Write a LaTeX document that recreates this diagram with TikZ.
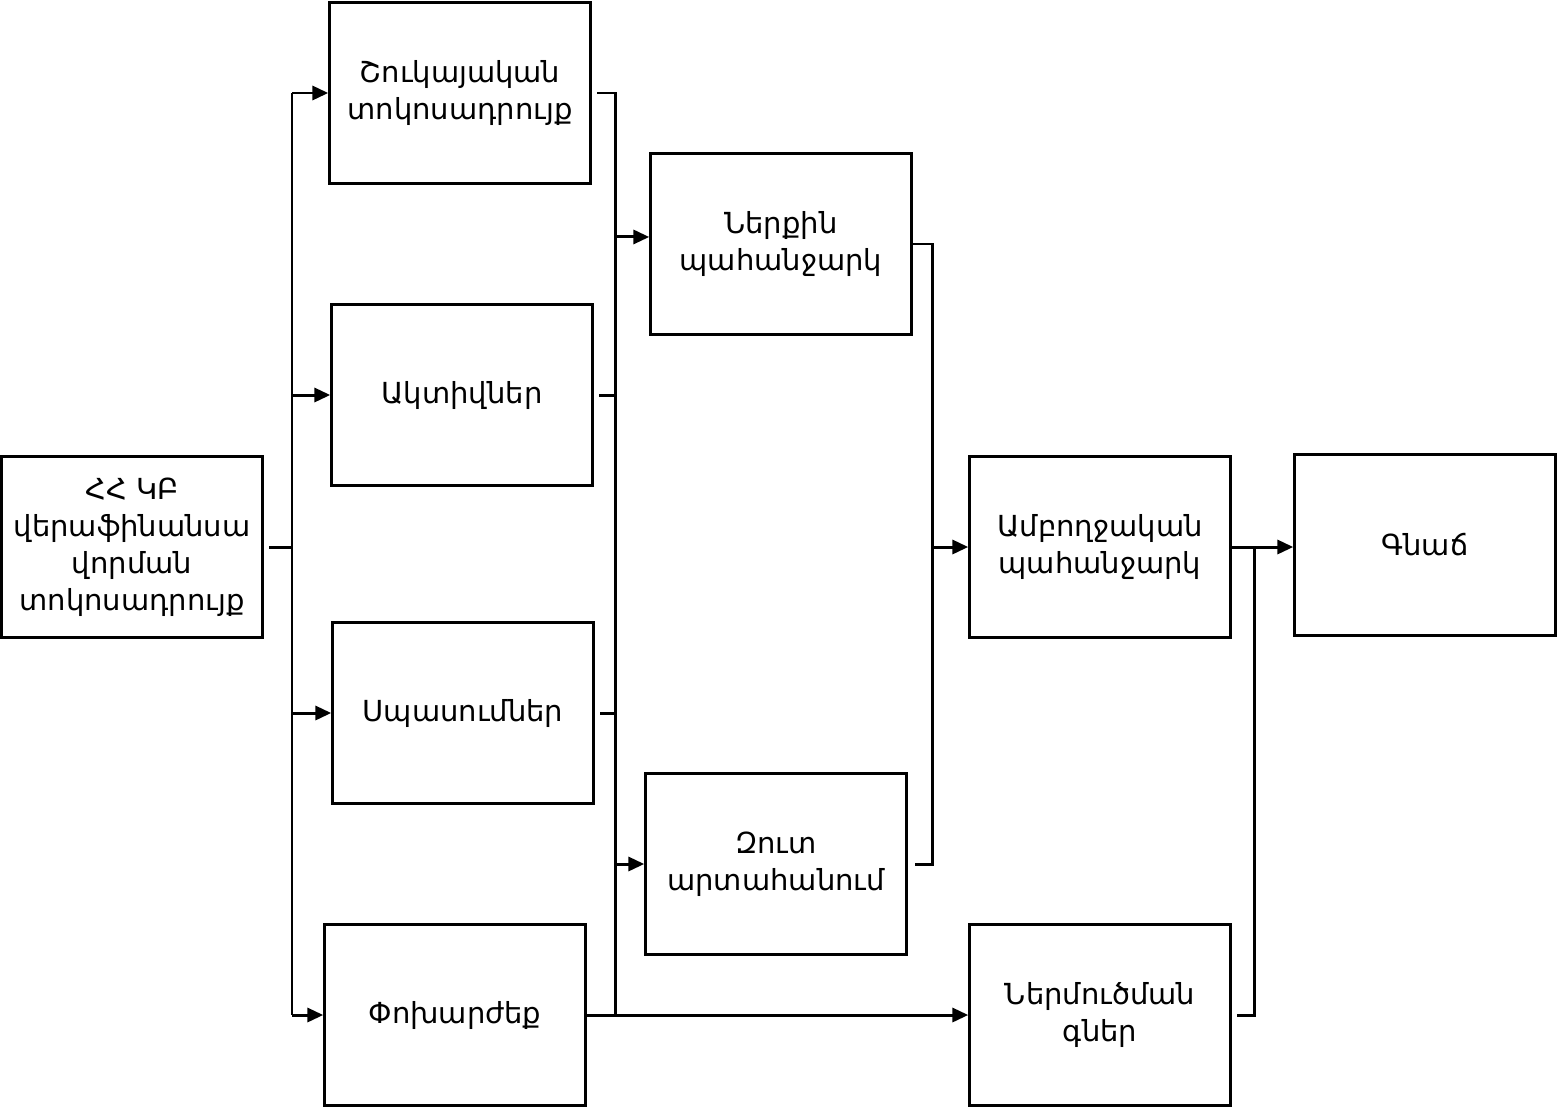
\documentclass[tikz,border=0pt]{standalone}
\usepackage{fontspec}
\setmainfont{DejaVu Sans}
\usetikzlibrary{arrows.meta,positioning}

\begin{document}
\begin{tikzpicture}[x=0.02cm,y=-0.02cm,
    box/.style = {draw, line width=1.5pt, minimum width=5.22cm, minimum height=3.62cm,
                  inner sep=0pt, align=center, font=\fontsize{16.5}{21}\selectfont},
    link/.style = {line width=1.7pt},
    >={Triangle[length=9pt,width=8pt]}]
    \useasboundingbox (0,0) rectangle (1557,1109);
    % boxes
    \node[box] (src) at (132,547) {ՀՀ ԿԲ\\վերաֆինանսա\\վորման\\տոկոսադրույք};
    \node[box] (shuk) at (460,93) {Շուկայական\\տոկոսադրույք};
    \node[box] (akt) at (462,395) {Ակտիվներ};
    \node[box] (spas) at (463,713) {Սպասումներ};
    \node[box] (pokh) at (455,1015) {Փոխարժեք};
    \node[box] (nerq) at (781,244) {Ներքին\\պահանջարկ};
    \node[box] (zut) at (776,864) {Զուտ\\արտահանում};
    \node[box] (amb) at (1100,547) {Ամբողջական\\պահանջարկ};
    \node[box] (gnach) at (1425,545) {Գնաճ};
    \node[box] (nerm) at (1100,1015) {Ներմուծման\\գներ};
    % bus points
    \coordinate (lb0) at (292,547);
    \coordinate (lb1) at (292,93);
    \coordinate (lb4) at (292,1015);
    \coordinate (rb1) at (615,93);
    \coordinate (rb4) at (615,1015);
    \coordinate (cb1) at (932,244);
    \coordinate (cb2) at (932,864);
    \coordinate (db1) at (1254,547);
    \coordinate (db2) at (1254,1015);
    % left bus
    \draw[link] ([xshift=3pt]src.east) -- (lb0);
    \draw[link] (lb1) -- (lb4);
    \draw[link,->] (lb1) -- (shuk.west);
    \draw[link,->] (akt.west -| lb1) -- (akt.west);
    \draw[link,->] (spas.west -| lb1) -- (spas.west);
    \draw[link,->] (lb4) -- (pokh.west);
    % middle bus
    \draw[link] ([xshift=3pt]shuk.east) -- (rb1) -- (rb4);
    \draw[link] ([xshift=3pt]akt.east) -- (akt.east -| rb1);
    \draw[link] ([xshift=3pt]spas.east) -- (spas.east -| rb1);
    \draw[link,->] ([yshift=4pt]nerq.west -| rb1) -- ([yshift=4pt]nerq.west);
    \draw[link,->] (zut.west -| rb1) -- (zut.west);
    \draw[link,->] (pokh.east) -- (nerm.west);
    % right side
    \draw[link] (nerq.east) -- (cb1) -- (cb2) -- ([xshift=4pt]zut.east);
    \draw[link,->] (amb.west -| cb1) -- (amb.west);
    \draw[link,->] (amb.east) -- (amb.east -| gnach.west);
    \draw[link] ([xshift=3pt]nerm.east) -- (db2) -- (db1);
\end{tikzpicture}
\end{document}
